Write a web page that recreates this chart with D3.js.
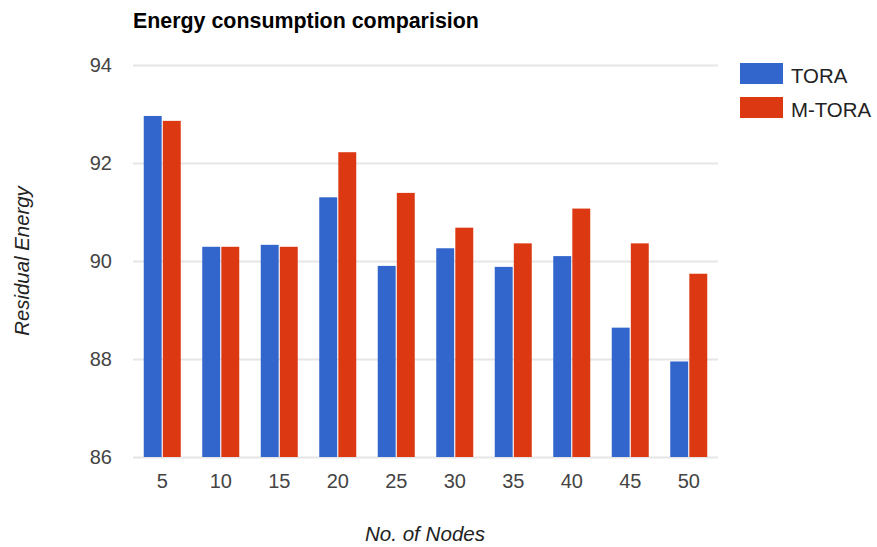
<!DOCTYPE html>
<html>
<head>
<meta charset="utf-8">
<script src="https://cdn.jsdelivr.net/npm/d3@7/dist/d3.min.js"></script>
<style>
  html, body { margin: 0; padding: 0; background: #fff; }
  text { font-family: "Liberation Sans", Arial, sans-serif; }
</style>
</head>
<body>
<svg id="chart" width="877" height="547"></svg>
<script>
const categories = ["5", "10", "15", "20", "25", "30", "35", "40", "45", "50"];
const seriesNames = ["TORA", "M-TORA"];
const toraValues = [92.96, 90.29, 90.33, 91.30, 89.90, 90.26, 89.88, 90.10, 88.64, 87.95];
const mtoraValues = [92.86, 90.29, 90.29, 92.22, 91.39, 90.68, 90.36, 91.07, 90.36, 89.74];
const yTicks = [86, 88, 90, 92, 94];
const colors = ["#3366cc", "#dc3912"];

const svg = d3.select("#chart");
const plotLeft = 133, plotRight = 718, plotTop = 65, plotBottom = 457;

const x0 = d3.scaleBand().domain(categories).range([plotLeft, plotRight]).paddingInner(0).paddingOuter(0);
const groupW = 37;
const x1 = d3.scaleBand().domain(seriesNames).range([0, groupW]).paddingInner(0.06);
const y = d3.scaleLinear().domain([86, 94]).range([plotBottom, plotTop]);

// gridlines
const yAxis = d3.axisLeft(y).tickValues(yTicks).tickSize(-(plotRight - plotLeft)).tickPadding(21).tickFormat(d3.format("d"));
const gy = svg.append("g").attr("transform", `translate(${plotLeft},0)`).call(yAxis);
gy.select(".domain").remove();
gy.selectAll(".tick line").attr("stroke", "#e6e6e6").attr("stroke-width", 2);
gy.selectAll(".tick text").attr("fill", "#444").style("font-size", "20px");

// bars
const data = categories.map((c, i) => ({ cat: c, vals: [toraValues[i], mtoraValues[i]] }));
const groups = svg.append("g").selectAll("g").data(data).join("g")
  .attr("transform", d => `translate(${x0(d.cat) + (x0.bandwidth() - groupW) / 2},0)`);
groups.selectAll("rect").data(d => d.vals.map((v, j) => ({ v, s: seriesNames[j], j })))
  .join("rect")
  .attr("x", d => x1(d.s))
  .attr("width", x1.bandwidth())
  .attr("y", d => y(d.v))
  .attr("height", d => y(86) - y(d.v))
  .attr("fill", d => colors[d.j]);

// x axis labels
const xAxis = d3.axisBottom(x0).tickSize(0).tickPadding(17);
const gx = svg.append("g").attr("transform", `translate(0,${plotBottom})`).call(xAxis);
gx.select(".domain").remove();
gx.selectAll(".tick text").attr("fill", "#444").style("font-size", "20px");

// title
svg.append("text").attr("x", 133).attr("y", 28).text("Energy consumption comparision")
  .attr("fill", "#000").style("font-size", "21.4px").style("font-weight", "bold");

// axis titles
svg.append("text").attr("x", 425).attr("y", 541).attr("text-anchor", "middle")
  .style("font-size", "20.6px").style("font-style", "italic").attr("fill", "#222").text("No. of Nodes");
svg.append("text").attr("transform", "translate(29,261) rotate(-90)").attr("text-anchor", "middle")
  .style("font-size", "20.4px").style("font-style", "italic").attr("fill", "#222").text("Residual Energy");

// legend
const lg = svg.append("g").selectAll("g").data(seriesNames).join("g")
  .attr("transform", (d, i) => `translate(740,${63 + i * 34})`);
lg.append("rect").attr("width", 43).attr("height", 21).attr("fill", (d, i) => colors[i]);
lg.append("text").attr("x", 51).attr("y", 20).style("font-size", "20.4px").attr("fill", "#222").text(d => d);
</script>
</body>
</html>
